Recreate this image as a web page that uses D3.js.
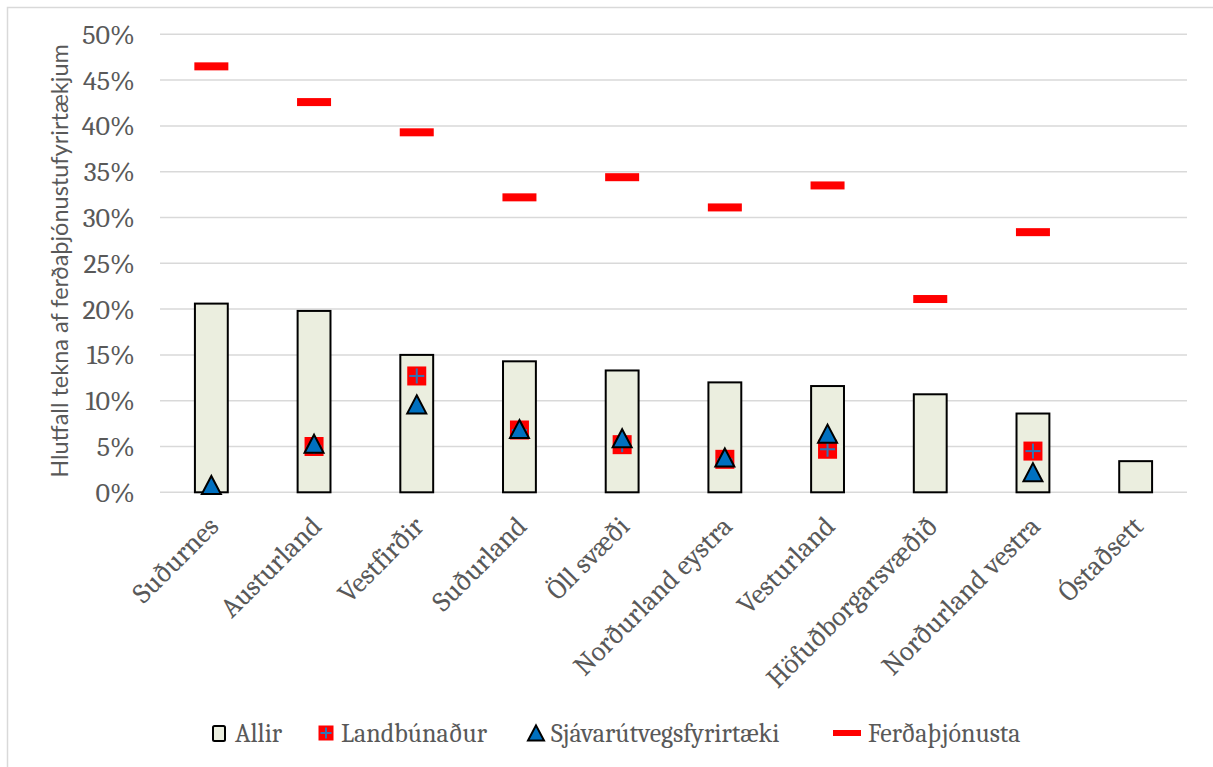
<!DOCTYPE html>
<html><head><meta charset="utf-8">
<script src="https://cdn.jsdelivr.net/npm/d3@7"></script>
<style>body{margin:0;background:#fff}svg{display:block}</style>
</head><body>
<svg id="c" width="1213" height="767"></svg>
<script>
const categories = ["Suðurnes","Austurland","Vestfirðir","Suðurland","Öll svæði","Norðurland eystra","Vesturland","Höfuðborgarsvæðið","Norðurland vestra","Óstaðsett"];
const allir = [20.6, 19.8, 15.0, 14.3, 13.3, 12.0, 11.6, 10.7, 8.6, 3.4];
const landbunadur = [null, 5.0, 12.7, 6.8, 5.2, 3.6, 4.7, null, 4.5, null];
const sjavarutvegur = [0.8, 5.3, 9.6, 6.9, 5.9, 3.8, 6.4, null, 2.2, null];
const ferdathjonusta = [46.5, 42.6, 39.3, 32.2, 34.4, 31.1, 33.5, 21.1, 28.4, null];
const yTicks = [0,5,10,15,20,25,30,35,40,45,50];
const seriesNames = ["Allir","Landbúnaður","Sjávarútvegsfyrirtæki","Ferðaþjónusta"];

const svg = d3.select("#c");
const serif = "Cambria, 'DejaVu Serif', serif";
const txt = "#595959";

svg.append("rect").attr("x",7.5).attr("y",7.5).attr("width",1220).attr("height",780)
  .attr("fill","none").attr("stroke","#d9d9d9").attr("stroke-width",1.5);

const x = d3.scaleBand().domain(categories).range([160,1187]).paddingInner(0.68).paddingOuter(0.34);
const y = d3.scaleLinear().domain([0,50]).range([492.3,34.3]);

// gridlines
svg.append("g").selectAll("line").data(yTicks).join("line")
  .attr("x1",160).attr("x2",1187).attr("y1",d=>y(d)).attr("y2",d=>y(d))
  .attr("stroke","#d9d9d9").attr("stroke-width",1.5);

// y axis labels
const yAxis = d3.axisLeft(y).tickValues(yTicks).tickFormat(d=>d+"%").tickSize(0).tickPadding(0);
const gy = svg.append("g").attr("transform","translate(135,0)").call(yAxis);
gy.select(".domain").remove();
gy.selectAll("text").attr("font-family",serif).attr("font-size",28).attr("fill",txt);

// y title
svg.append("text").attr("transform","translate(68,261) rotate(-90)")
  .attr("text-anchor","middle").attr("font-family","Lato, 'Noto Sans', sans-serif")
  .attr("font-size",23.5).attr("fill",txt).text("Hlutfall tekna af ferðaþjónustufyrirtækjum");

// bars
const cx = c => x(c)+x.bandwidth()/2;
svg.append("g").selectAll("rect").data(categories).join("rect")
  .attr("x",d=>x(d)).attr("width",x.bandwidth())
  .attr("y",(d,i)=>y(allir[i])).attr("height",(d,i)=>y(0)-y(allir[i]))
  .attr("fill","#ebeedf").attr("stroke","#000").attr("stroke-width",2);

// x labels
svg.append("g").selectAll("text").data(categories).join("text")
  .attr("transform",d=>`translate(${cx(d)+2},${521}) rotate(-45)`)
  .attr("text-anchor","end").attr("dy","0.35em")
  .attr("font-family",serif).attr("font-size",28).attr("fill",txt).text(d=>d);

// markers
function square(g, px, py, s){
  g.append("rect").attr("x",px-s/2).attr("y",py-s/2).attr("width",s).attr("height",s).attr("fill","#ff0000");
  g.append("line").attr("x1",px-s/2+2).attr("x2",px+s/2-2).attr("y1",py).attr("y2",py).attr("stroke","#2e75b6").attr("stroke-width",2);
  g.append("line").attr("y1",py-s/2+2).attr("y2",py+s/2-2).attr("x1",px).attr("x2",px).attr("stroke","#2e75b6").attr("stroke-width",2);
}
function triangle(g, px, py, s){
  const h = s*0.95;
  g.append("path").attr("d",`M${px},${py-h/2}L${px+s/2},${py+h/2}L${px-s/2},${py+h/2}Z`)
    .attr("fill","#0070c0").attr("stroke","#000").attr("stroke-width",2).attr("stroke-linejoin","miter");
}
function dash(g, px, py){
  g.append("rect").attr("x",px-17).attr("y",py-4).attr("width",34).attr("height",8).attr("fill","#ff0000");
}
const gl = svg.append("g"), gs = svg.append("g"), gf = svg.append("g");
categories.forEach((c,i)=>{
  if(landbunadur[i]!=null) square(gl, cx(c), y(landbunadur[i]), 19);
  if(sjavarutvegur[i]!=null) triangle(gs, cx(c), y(sjavarutvegur[i]), 19);
  if(ferdathjonusta[i]!=null) dash(gf, cx(c), y(ferdathjonusta[i]));
});

// legend
const lg = svg.append("g");
const legX = [212, 318, 527, 833];
const ly = 733;
lg.append("rect").attr("x",legX[0]+1).attr("y",ly-7).attr("width",12).attr("height",15).attr("fill","#ebeedf").attr("stroke","#000").attr("stroke-width",2).attr("rx",1.5);
square(lg, legX[1]+8, ly, 15);
triangle(lg, legX[2]+9, ly, 16);
lg.append("rect").attr("x",legX[3]).attr("y",ly-3).attr("width",28).attr("height",6).attr("fill","#ff0000");
const legTextX = [235, 341, 551, 868];
seriesNames.forEach((n,i)=>{
  lg.append("text").attr("x",legTextX[i]).attr("y",ly).attr("dy","0.35em")
    .attr("font-family",serif).attr("font-size",26).attr("fill",txt).text(n);
});
</script>
</body></html>
